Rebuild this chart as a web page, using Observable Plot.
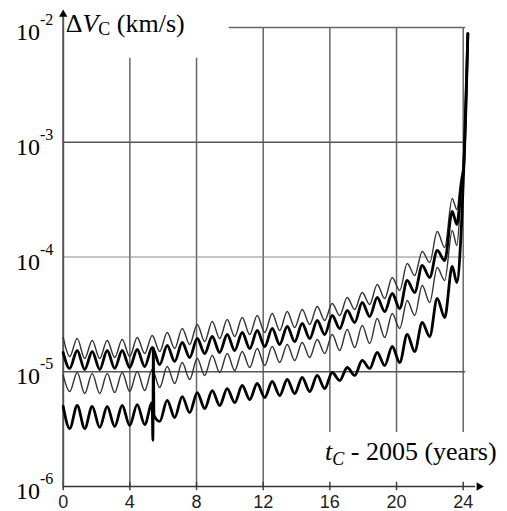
<!DOCTYPE html>
<html><head><meta charset="utf-8">
<script src="https://cdn.jsdelivr.net/npm/d3@7"></script>
<script src="https://cdn.jsdelivr.net/npm/@observablehq/plot@0.6"></script>
<style>body{margin:0;background:#fff}#chart svg{display:block}</style>
</head><body><div id="chart"></div><script>
// time since 2005 (years) of each read-off point (start, then alternating troughs / peaks, then final rise)
const tYears = [0, 0.39, 0.84, 1.29, 1.74, 2.19, 2.64, 3.09, 3.54, 3.99, 4.44, 4.89, 5.34, 5.79, 6.24, 6.69, 7.14, 7.59, 8.04, 8.49, 8.94, 9.39, 9.84, 10.29, 10.74, 11.19, 11.64, 12.09, 12.54, 12.99, 13.44, 13.89, 14.34, 14.79, 15.24, 15.69, 16.14, 16.59, 17.04, 17.49, 17.94, 18.39, 18.84, 19.29, 19.74, 20.19, 20.64, 21.09, 21.54, 21.99, 22.44, 22.89, 23.34, 23.62, 23.85, 24.05, 24.28];
// ΔV_C in units of 1e-5 km/s
const aUpperThin = [1.988, 1.358,1.948, 1.305,1.872, 1.305,1.872, 1.331,1.910, 1.358,1.988, 1.442,2.070, 1.502,2.198, 1.594,2.381, 1.728,2.580, 1.835,2.741, 1.948,2.853, 2.029,2.970, 2.111,3.092, 2.198,3.218, 2.288,3.350, 2.430,3.487, 2.580,3.704, 2.797,3.932, 3.092,4.437, 3.487,4.905, 3.855,5.758, 4.349,6.628, 5.106,8.776, 6.900,11.17, 8.956,16.68, 12.10,32.34, 25.94, 46.4, 69.4, 886];
const bUpperThick = [1.47, 1.068,1.532, 1.046,1.502, 1.046,1.532, 1.068,1.532, 1.089,1.563, 1.111,1.627, 1.157,1.694, 1.229,1.798, 1.331,1.948, 1.442,2.029, 1.472,2.111, 1.532,2.198, 1.594,2.288, 1.660,2.381, 1.728,2.479, 1.835,2.632, 1.948,2.797, 2.111,3.092, 2.381,3.418, 2.686,4.013, 3.030,4.437, 3.350,4.806, 3.557,6.240, 4.905,8.433, 6.628,11.39, 9.323,24.92, 19.2, 38.0, 69.4, 886];
const cLowerThin = [0.928, 0.672,0.985, 0.646,0.965, 0.646,0.965, 0.659,0.985, 0.672,1.005, 0.686,1.046, 0.729,1.111, 0.790,1.204, 0.856,1.305, 0.928,1.386, 0.985,1.442, 1.025,1.502, 1.089,1.594, 1.134,1.660, 1.204,1.728, 1.254,1.798, 1.331,1.910, 1.442,2.111, 1.532,2.334, 1.627,2.529, 1.762,2.910, 1.988,3.218, 2.381,4.177, 3.092,5.644, 4.013,8.101, 6.240,17.02, 12.59, 31.1, 69.4, 886];
const dLowerThick = [0.498, 0.320,0.508, 0.320,0.498, 0.327,0.498, 0.333,0.508, 0.340,0.518, 0.347,0.539, 0.369,0.562, 0.399,0.608, 0.441,0.659, 0.478,0.686, 0.508,0.714, 0.539,0.759, 0.573,0.790, 0.596,0.822, 0.621,0.856, 0.646,0.891, 0.672,0.928, 0.714,0.985, 0.839,1.089, 0.928,1.254, 1.068,1.472, 1.134,1.660, 1.204,2.111, 1.502,2.686, 2.029,4.349, 2.970,8.27, 5.994, 13.9, 69.4, 886];
// short glitch in the lower thick curve
const spikeYears = [5.38, 5.41, 5.44];
const spikeLower = [0.252, 1.59, 0.42];

const xTicks = [0, 4, 8, 12, 16, 20, 24];
const yTickExps = [-6, -5, -4, -3, -2];
const unit = 1e-5;

const toRows = vals => tYears.map((t, i) => ({t, v: vals[i] * unit}));
const rowsA = toRows(aUpperThin);
const rowsB = toRows(bUpperThick);
const rowsC = toRows(cLowerThin);
const rowsD = toRows(dLowerThick).concat(spikeYears.map((t, i) => ({t, v: spikeLower[i] * unit}))).sort((a, b) => a.t - b.t);

const yMin = 1e-6, yTop = 1e-2;
const shortTop = 5.4e-3;      // top of the 4 and 8 grid lines
const gapBottom = 2.96e-6;    // grid lines 16..24 stop above the x label
const gridRight = 24.15;
const yAxisTop = 1.3e-2, xAxisEnd = 24.95;

const chart = Plot.plot({
  width: 507, height: 511,
  marginLeft: 62.7, marginRight: 44.3, marginTop: 27, marginBottom: 25,
  x: {domain: [0, 24], label: null},
  y: {type: "log", domain: [yMin, yTop], axis: null},
  style: {background: "#fff", overflow: "visible"},
  marks: [
    Plot.ruleX([4, 8], {y1: yMin, y2: shortTop, stroke: "#666", strokeWidth: 1.5}),
    Plot.ruleX([12], {y1: yMin, y2: yTop, stroke: "#666", strokeWidth: 1.5}),
    Plot.ruleX([16, 20, 24], {y1: gapBottom, y2: yTop, stroke: "#666", strokeWidth: 1.5}),
    Plot.ruleX(xTicks, {y1: 9.2e-7, y2: 1.09e-6, stroke: "#444", strokeWidth: 1.5}),
    Plot.ruleY([1e-3, 1e-5], {x1: 0, x2: gridRight, stroke: "#555", strokeWidth: 1.5}),
    Plot.ruleY([1e-4], {x1: 0, x2: gridRight, stroke: "#888", strokeWidth: 1}),
    Plot.ruleY([1e-2], {x1: 9.96, x2: gridRight, stroke: "#666", strokeWidth: 1.5}),
    Plot.ruleX([0], {y1: yMin, y2: yAxisTop, stroke: "#555", strokeWidth: 2}),
    Plot.ruleY([yMin], {x1: 0, x2: xAxisEnd - 0.2, stroke: "#333", strokeWidth: 1.5}),
    Plot.dot([yAxisTop], {x: () => 0, y: d => d, symbol: "triangle2", r: 4, fill: "#000", stroke: null}),
    Plot.dot([xAxisEnd], {x: d => d, y: () => yMin, symbol: "triangle2", r: 4, fill: "#000", stroke: null, rotate: 90}),
    Plot.line(rowsA, {x: "t", y: "v", curve: "monotone-x", stroke: "#333", strokeWidth: 1.4}),
    Plot.line(rowsC, {x: "t", y: "v", curve: "monotone-x", stroke: "#333", strokeWidth: 1.4}),
    Plot.line(rowsB, {x: "t", y: "v", curve: "monotone-x", stroke: "#000", strokeWidth: 2.8}),
    Plot.line(rowsD, {x: "t", y: "v", curve: "monotone-x", stroke: "#000", strokeWidth: 2.8}),
    Plot.axisX(xTicks, {tickSize: 0, tickPadding: 9, fontSize: 18, fontFamily: "Liberation Sans", fill: "#222", label: null})
  ]
});

const svg = d3.select(chart);
const sy = chart.scale("y"), sx = chart.scale("x");
const serif = "Liberation Serif";
yTickExps.forEach(e => {
  const y = sy.apply(Math.pow(10, e));
  const t = svg.append("text").attr("x", 16).attr("y", y + 13).attr("text-anchor", "start")
    .attr("font-family", serif).attr("font-size", 24).attr("fill", "#000");
  t.append("tspan").text("10");
  t.append("tspan").attr("dy", -15).attr("font-size", 16).text(String(e));
});
// y label
const yl = svg.append("text").attr("x", sx.apply(0) + 3).attr("y", 32).attr("text-anchor", "start")
  .attr("font-family", serif).attr("font-size", 26).attr("fill", "#000");
yl.append("tspan").text("\u0394");
yl.append("tspan").attr("font-style", "italic").text("V");
yl.append("tspan").attr("font-size", 18).attr("dy", 3).text("C");
yl.append("tspan").attr("dy", -3).text(" (km/s)");
// x label
const xl = svg.append("text").attr("x", 325).attr("y", 460).attr("text-anchor", "start")
  .attr("font-family", serif).attr("font-size", 26).attr("fill", "#000");
xl.append("tspan").attr("font-style", "italic").text("t");
xl.append("tspan").attr("font-style", "italic").attr("font-size", 18).attr("dy", 5).text("C");
xl.append("tspan").attr("dy", -5).text(" - 2005 (years)");

document.getElementById("chart").appendChild(chart);
</script></body></html>
